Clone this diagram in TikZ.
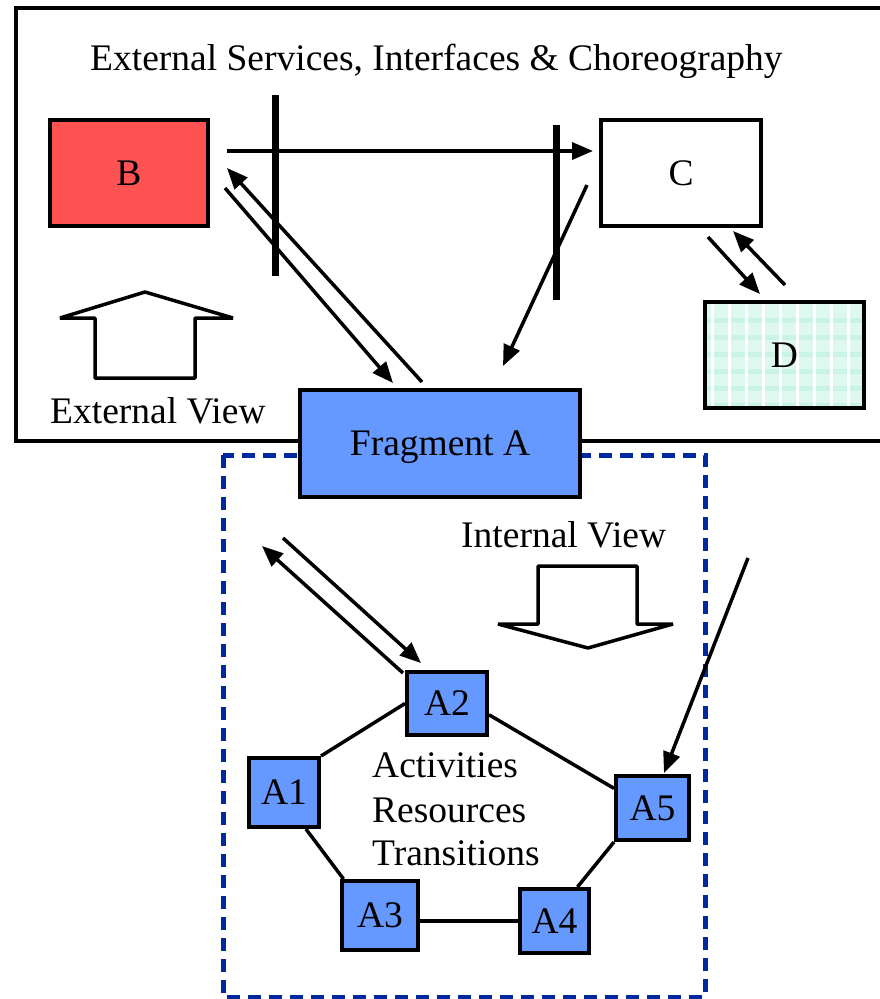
\documentclass[tikz,border=0pt]{standalone}
\usepackage{fontspec}
\setmainfont{Liberation Serif}
\usetikzlibrary{arrows.meta,calc}
\definecolor{bred}{RGB}{255,82,82}
\definecolor{ablue}{RGB}{102,153,255}
\definecolor{dblue}{RGB}{0,41,160}
\definecolor{dfill}{RGB}{222,248,240}
\definecolor{dband}{RGB}{200,243,230}
\tikzset{
  lbl/.style={font=\fontsize{37.5}{45}\selectfont, inner sep=0pt},
  boxnode/.style={draw, line width=4pt, inner sep=0pt, text depth=0pt, font=\fontsize{37.5}{45}\selectfont},
  conn/.style={line width=3.5pt},
  arr/.style={line width=3.5pt, -{Triangle[length=21pt,width=17pt]}},
  bar/.style={line width=7pt},
  frame/.style={line width=4pt},
  dashbox/.style={draw=dblue, line width=5pt, dash pattern=on 13pt off 8pt},
  hollow/.style={draw, fill=white, line width=3.5pt, line join=bevel}
}
\begin{document}
\begin{tikzpicture}[x=1pt,y=-1pt]
\useasboundingbox (0,0) rectangle (880,999);
% outer frame (external view)
\draw[frame] (882,8) -- (16,8) -- (16,441) -- (882,441);
% dashed internal view box
\draw[dashbox] (223,455) rectangle (705,997);

% title
\node[lbl, anchor=base west] (title) at (90,70) {External Services, Interfaces \& Choreography};

% boxes B, C, D
\node[boxnode, fill=bred, minimum width=158pt, minimum height=106pt] (B) at (129,173) {B};
\node[boxnode, fill=white, minimum width=160pt, minimum height=106pt] (C) at (681,173) {C};
\begin{scope}
  \clip (705,302) rectangle (864,408);
  \fill[dfill] (705,302) rectangle (864,408);
  \foreach \yy in {318,335,...,408} \fill[dband] (705,\yy) rectangle (864,\yy+5);
  \foreach \xx in {711,728,...,864} \fill[white] (\xx,302) rectangle (\xx+3,408);
\end{scope}
\node[boxnode, minimum width=159pt, minimum height=106pt] (D) at (784.5,355) {D};

% vertical interface bars
\coordinate (bar1t) at (275,95);  \coordinate (bar1b) at (275,276);
\coordinate (bar2t) at (556,125); \coordinate (bar2b) at (556,300);
\draw[bar] (bar1t) -- (bar1b);
\draw[bar] (bar2t) -- (bar2b);

% free ends of connectors
\coordinate (bcs) at (227,151);  \coordinate (bct) at (593,151);
\coordinate (ab1s) at (422,382); \coordinate (ab1t) at (227,168);
\coordinate (ab2s) at (225,188); \coordinate (ab2t) at (393,383);
\coordinate (cas) at (587,185);  \coordinate (cat) at (503,366);
\coordinate (cd1s) at (708,237); \coordinate (cd1t) at (760,294);
\coordinate (cd2s) at (785,285); \coordinate (cd2t) at (733,231);
\coordinate (aa1s) at (283,538); \coordinate (aa1t) at (421,663);
\coordinate (aa2s) at (403,673); \coordinate (aa2t) at (262,546);
\coordinate (a5s) at (748,558);  \coordinate (a5t) at (664,773);

\draw[arr] (bcs) -- (bct);
\draw[arr] (ab1s) -- (ab1t);
\draw[arr] (ab2s) -- (ab2t);
\draw[arr] (cas) -- (cat);
\draw[arr] (cd1s) -- (cd1t);
\draw[arr] (cd2s) -- (cd2t);

% hollow arrows
\draw[hollow] (95,378) -- (95,318) -- (60,318) -- (145,292) -- (233,318) -- (195,318) -- (195,378) -- cycle;
\node[lbl, anchor=base west] (extview) at (50,423) {External View};

% Fragment A
\node[boxnode, fill=ablue, minimum width=280pt, minimum height=107pt] (A) at (440,443.5) {Fragment A};

\node[lbl, anchor=base west] (intview) at (461,547) {Internal View};
\draw[hollow] (538,566) -- (637,566) -- (637,624) -- (673,624) -- (588,648) -- (498,624) -- (538,624) -- cycle;

\draw[arr] (aa1s) -- (aa1t);
\draw[arr] (aa2s) -- (aa2t);
\draw[arr] (a5s) -- (a5t);

% activities
\node[boxnode, fill=ablue, minimum width=80pt, minimum height=63pt] (A2) at (447,703.5) {A2};
\node[boxnode, fill=ablue, minimum width=70pt, minimum height=69pt] (A1) at (284,792.5) {A1};
\node[boxnode, fill=ablue, minimum width=76pt, minimum height=69pt] (A3) at (380,915.5) {A3};
\node[boxnode, fill=ablue, minimum width=69pt, minimum height=64pt] (A4) at (554.5,921) {A4};
\node[boxnode, fill=ablue, minimum width=73pt, minimum height=64pt] (A5) at (652.5,808) {A5};

\draw[conn] (A2.west) -- (A1.north east);
\draw[conn] (A2.-15) -- (A5.153);
\draw[conn] (A1.-59) -- (A3.135);
\draw[conn] (A4.west) -- (A4.west -| A3.east);
\draw[conn] (A4.56) -- (A5.south west);

\node[lbl, anchor=base west] (act) at (372,777) {Activities};
\node[lbl, anchor=base west] (res) at (372,822) {Resources};
\node[lbl, anchor=base west] (tra) at (372,865) {Transitions};
\end{tikzpicture}
\end{document}
